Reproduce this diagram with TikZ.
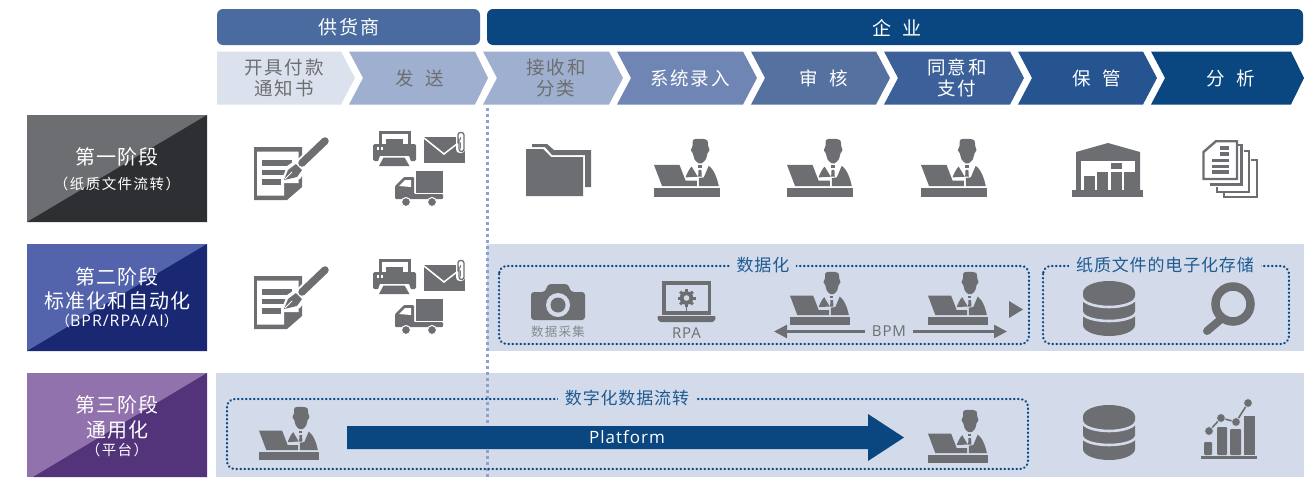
\documentclass[tikz,border=0pt]{standalone}
\usepackage{fontspec}
\setmainfont{Noto Sans CJK SC}
\newfontfamily\spaced[LetterSpace=10]{Noto Sans CJK SC}
\newfontfamily\tight[LetterSpace=5]{Noto Sans CJK SC}
\newfontfamily\latinf[LetterSpace=6]{Open Sans}
\usetikzlibrary{arrows.meta}
\definecolor{ink}{HTML}{6D6E71}
\definecolor{panel}{HTML}{D3DBEA}
\definecolor{navy}{HTML}{0A4780}
\definecolor{steel}{HTML}{4A6B9F}
\definecolor{chA}{HTML}{DCE1EE}
\definecolor{chB}{HTML}{9FAFD0}
\definecolor{chC}{HTML}{6F86B5}
\definecolor{chD}{HTML}{55719F}
\definecolor{chE}{HTML}{3C6099}
\definecolor{chF}{HTML}{255490}
\definecolor{labelblue}{HTML}{1F5A91}
\definecolor{vline}{HTML}{8EA1CF}
\definecolor{darkgrey}{HTML}{2E2F33}
\definecolor{lightblue}{HTML}{5364AD}
\definecolor{darkblue}{HTML}{1A2874}
\definecolor{lightpurple}{HTML}{9272AD}
\definecolor{darkpurple}{HTML}{53337A}
\newcommand{\fs}[1]{\fontsize{#1}{#1}\selectfont}
\tikzset{
  hdr/.style={fill=#1,rounded corners=6pt},
  chtext/.style={text=#1,font=\spaced\fs{18.5},align=center,inner sep=0pt},
  rowtitle/.style={text=white,font=\tight\fs{20},inner sep=0pt},
  rowsub/.style={text=white,font=\spaced\fs{14.5},inner sep=0pt},
  frame/.style={draw=navy,line width=2.4pt,dash pattern=on .3pt off 3.7pt,line cap=round,rounded corners=8pt},
  framelabel/.style={fill=panel,text=labelblue,font=\tight\fs{17},inner sep=0pt,inner xsep=7pt},
  pics/person/.style={code={
    \fill[ink] (0,149) rectangle (163,177);
    \fill[ink] (0,79) -- (63,79) -- (78,127) -- (106,127) -- (106,144) -- (20,144) -- cycle;
    \fill[ink] plot[smooth cycle,tension=.5] coordinates {(96,4) (104,0) (122,0) (132,5) (134,22) (137,34) (132,44) (128,62) (118,74) (110,74) (100,62) (96,44) (91,34) (95,22)};
    \fill[ink] (78,117) .. controls (82,102) and (88,90) .. (93,84) -- (108,115) -- cycle;
    \fill[ink] (111,144) -- (111,119) -- (123,117) -- (135,82) .. controls (148,92) and (156,120) .. (160,144) -- cycle;
    \fill[ink] (108,80) rectangle (118,88);
    \fill[ink] (110,94) -- (117,94) -- (118,115) -- (109,115) -- cycle;
  }},
  pics/note/.style={code={
    \fill[ink] (0,0) -- (48,0) -- (48,40) -- (33,53) -- (0,53) -- cycle;
    \fill[white] (3,4.5) -- (44.5,4.5) -- (44.5,36) -- (30,36) -- (30,48.5) -- (3,48.5) -- cycle;
    \fill[ink] (8,13) rectangle (38,18.5);
    \fill[ink] (8,23) rectangle (32,28);
    \fill[ink] (8,32) rectangle (27,38);
    \draw[white,line width=11pt,line cap=round] (44,20) -- (71,-7);
    \fill[white] (27,35) -- (33,19) -- (42,13) -- (52,23) -- (46,32) -- cycle;
    \draw[ink,line width=7.5pt,line cap=round] (48,16) -- (71,-6);
    \fill[ink] (30,33) -- (34,23) -- (42,17) -- (48,23) -- (43,30) -- cycle;
    \draw[white,line width=.8pt] (31,32) -- (38,25);
  }},
  pics/sendgroup/.style={code={
    \fill[ink] (6,0) rectangle (38,14);
    \fill[white] (9,3) rectangle (35,14);
    \fill[ink] (13,8) rectangle (30,13);
    \fill[ink,rounded corners=1.5pt] (0,13) rectangle (43,30);
    \fill[white] (4,16) rectangle (6,18.5);
    \fill[white] (8,16) rectangle (10,18.5);
    \fill[white] (7,25) -- (36,25) -- (40,36) -- (3,36) -- cycle;
    \fill[ink] (10.5,26.5) -- (31.5,26.5) -- (36.5,35) -- (6,35) -- cycle;
    \fill[ink] (51,6) rectangle (92,32);
    \draw[white,line width=1.5pt] (51,7) -- (71,23) -- (89,9);
    \draw[white,line width=4pt,line cap=round,rounded corners=2pt] (85,6) -- (85,20) -- (90,20) -- (90,2) -- (86,2);
    \draw[ink,line width=1.3pt,line cap=round,rounded corners=2.5pt] (86,8) -- (86,20.5) -- (91,20.5) -- (91,1.5) -- (85,1.5) -- (85,12);
    \fill[ink] (43,40) rectangle (70,62);
    \fill[ink,rounded corners=1pt] (22,68) -- (22,55) -- (31,46) -- (41,46) -- (41,63) -- (70,63) -- (70,68) -- cycle;
    \fill[white] (26,55) -- (32,49) -- (38,49) -- (38,56) -- cycle;
    \filldraw[ink,draw=white,line width=1pt] (33,71) circle (4.5);
    \filldraw[ink,draw=white,line width=1pt] (59,71) circle (4.5);
  }},
  pics/folder/.style={code={
    \fill[ink] (0,5) -- (17,5) -- (25,13) -- (57,13) -- (57,52) -- (0,52) -- cycle;
    \fill[ink] (6,0) -- (21,0) -- (28,6) -- (65,6) -- (65,43) -- (59,43) -- (59,11) -- (26,11) -- (19,3) -- (6,3) -- cycle;
  }},
  pics/warehouse/.style={code={
    \fill[ink] (0,47) rectangle (71,54);
    \fill[ink] (4,47) -- (4,9) -- (36,0) -- (68,9) -- (68,47) -- cycle;
    \fill[white] (9,18) rectangle (63,47);
    \fill[ink] (11.5,33) rectangle (23,47);
    \fill[ink] (24.5,28.5) rectangle (36,47);
    \fill[ink] (38.5,28.5) rectangle (50,47);
    \fill[ink] (51.5,28.5) rectangle (63,47);
    \fill[ink] (38.5,20) rectangle (50,26);
  }},
  pics/docs/.style={code={
    \draw[ink,line width=2.4pt,line join=miter] (1.5,12) -- (14,1.2) -- (35,1.2) -- (35,39) -- (1.5,39) -- cycle;
    \draw[ink,line width=2.2pt] (36,5) -- (39.5,5) -- (39.5,44.5) -- (8,44.5);
    \draw[ink,line width=2.2pt] (42,11) -- (47,11) -- (47,52) -- (15,52) -- (15,47);
    \draw[ink,line width=2.2pt] (49,20) -- (55,20) -- (55,57) -- (22,57) -- (22,53);
    \fill[ink] (17.5,6) rectangle (27,9.5);
    \fill[ink] (17.5,12) rectangle (27,15.5);
    \fill[ink] (10,18.5) rectangle (27,22);
    \fill[ink] (10,24.5) rectangle (27,28);
    \fill[ink] (10,30) rectangle (27,33.5);
  }},
  pics/db/.style={code={
    \fill[ink] (-26,11) -- (-26,44) arc[start angle=180,end angle=0,x radius=26,y radius=11] -- (26,11) -- cycle;
    \draw[panel,line width=2.6pt] (-27,16) arc[start angle=180,end angle=0,x radius=27,y radius=10];
    \draw[panel,line width=2.6pt] (-27,31) arc[start angle=180,end angle=0,x radius=27,y radius=9];
    \fill[ink] (0,11.5) ellipse[x radius=26,y radius=11.5];
  }},
  pics/magnifier/.style={code={
    \draw[ink,line width=8.5pt] (0,0) circle (17.5);
    \draw[ink,line width=8pt,line cap=round] (-13,16) -- (-26,27);
  }},
  pics/camera/.style={code={
    \fill[ink,rounded corners=3pt] (-27,-12) -- (-13,-12) -- (-10,-20) -- (10,-20) -- (13,-12) -- (27,-12) -- (27,16) -- (-27,16) -- cycle;
    \fill[panel] (0,1) circle (12);
    \fill[ink] (0,1) circle (7.5);
  }},
  pics/laptop/.style={code={
    \fill[ink] (-24.5,-18) rectangle (24.5,16);
    \fill[panel] (-21,-14.5) rectangle (21,12);
    \fill[ink,rounded corners=2pt] (-29.5,17) -- (29.5,17) -- (28,23) -- (-28,23) -- cycle;
    \foreach \a in {0,45,...,315}{\draw[ink,line width=3pt] (0,-1) -- ++(\a:9);}
    \fill[ink] (0,-1) circle (6.8);
    \fill[panel] (0,-1) circle (2.8);
    \draw[ink,line width=1.6pt] (0,7) -- (0,12);
  }},
  pics/chart/.style={code={
    \fill[ink] (0,53) rectangle (56,55.5);
    \fill[ink,rounded corners=1pt] (3,39) rectangle (11,52);
    \fill[ink,rounded corners=1pt] (16,24) rectangle (26,52);
    \fill[ink,rounded corners=1pt] (29,26) rectangle (40,52);
    \fill[ink] (43,13) rectangle (54,52);
    \draw[panel,line width=4pt] (8,28) -- (20,15) -- (35,19) -- (47,0);
    \draw[ink,line width=1.6pt] (8,28) -- (20,15) -- (35,19) -- (47,0);
    \foreach \p in {(8,28),(20,15),(35,19),(47,0)}{\filldraw[ink,draw=panel,line width=.7pt] \p circle (4.4);}
  }},
}
\begin{document}
\begin{tikzpicture}[x=1pt,y=-1pt]
\useasboundingbox (0,0) rectangle (1312,477);
\fill[panel] (487,244) rectangle (1304,351);
\fill[panel] (216,373) rectangle (1304,477);
\fill[hdr=steel] (217,9) rectangle (480,45);
\fill[hdr=navy] (487,9) rectangle (1303,45);
\node[text=white,font=\spaced\fs{19},inner sep=0pt] (supplier) at (349,27.5) {供货商};
\node[text=white,font=\spaced\fs{19},inner sep=0pt] (company) at (897,27.5) {企\hspace{.6em}业};
\fill[chA] (217,51.5) -- (341,51.5) -- (355,78) -- (341,104.5) -- (217,104.5) -- cycle;
\fill[chB] (349,51.5) -- (475,51.5) -- (488,78) -- (475,104.5) -- (349,104.5) -- (363,78) -- cycle;
\fill[chB] (483,51.5) -- (609,51.5) -- (623,78) -- (609,104.5) -- (483,104.5) -- (497,78) -- cycle;
\fill[chC] (617,51.5) -- (743,51.5) -- (757,78) -- (743,104.5) -- (617,104.5) -- (631,78) -- cycle;
\fill[chD] (751,51.5) -- (876,51.5) -- (890,78) -- (876,104.5) -- (751,104.5) -- (765,78) -- cycle;
\fill[chE] (884,51.5) -- (1010,51.5) -- (1024,78) -- (1010,104.5) -- (884,104.5) -- (898,78) -- cycle;
\fill[chF] (1018,51.5) -- (1143,51.5) -- (1157,78) -- (1143,104.5) -- (1018,104.5) -- (1032,78) -- cycle;
\fill[navy] (1151,51.5) -- (1291,51.5) -- (1304,78) -- (1291,104.5) -- (1151,104.5) -- (1165,78) -- cycle;
\node[chtext=ink] (c1) at (284,78) {开具付款\\[2pt]通知书};
\node[chtext=ink] (c2) at (420,78) {发\hspace{.6em}送};
\node[chtext=ink] (c3) at (556,78) {接收和\\[2pt]分类};
\node[chtext=white] (c4) at (690,78) {系统录入};
\node[chtext=white] (c5) at (824,78) {审\hspace{.6em}核};
\node[chtext=white] (c6) at (957,78) {同意和\\[2pt]支付};
\node[chtext=white] (c7) at (1097,78) {保\hspace{.6em}管};
\node[chtext=white] (c8) at (1231,78) {分\hspace{.6em}析};
\fill[ink] (27,115) rectangle (207,222);
\fill[darkgrey] (207,115) -- (207,222) -- (27,222) -- cycle;
\fill[lightblue] (27,244) rectangle (207,351);
\fill[darkblue] (207,244) -- (207,351) -- (27,351) -- cycle;
\fill[lightpurple] (27,373) rectangle (207,477);
\fill[darkpurple] (207,373) -- (207,477) -- (33,477) -- cycle;
\node[rowtitle] (s1) at (117,157) {第一阶段};
\node[rowsub] (s1b) at (117,184) {（纸质文件流转）};
\node[rowtitle] (s2) at (117,277) {第二阶段};
\node[rowtitle] (s2b) at (117,301) {标准化和自动化};
\node[rowsub] (s2c) at (117,321) {（{\latinf\fs{16}BPR/RPA/AI}）};
\node[rowtitle] (s3) at (117,405) {第三阶段};
\node[rowtitle] (s3b) at (117,430) {通用化};
\node[rowsub] (s3c) at (117,450) {（平台）};
\coordinate (vtop) at (487.5,108);
\coordinate (vbot) at (487.5,477);
\draw[vline,line width=2.5pt,dash pattern=on 3pt off 3pt] (vtop) -- (vbot);
\pic at (254,147) {note};
\pic at (373,131) {sendgroup};
\pic at (526,144) {folder};
\pic[xscale=.405,yscale=.328] at (654,139) {person};
\pic[xscale=.405,yscale=.328] at (787,139) {person};
\pic[xscale=.405,yscale=.328] at (921,139) {person};
\pic at (1072,143) {warehouse};
\pic at (1202,140) {docs};
\pic at (254,276) {note};
\pic at (373,259) {sendgroup};
\draw[frame] (499,266) rectangle (1029,344);
\draw[frame] (1043,266) rectangle (1289,344);
\node[framelabel] (lab1) at (763,265) {数据化};
\node[framelabel] (lab2) at (1165,265) {纸质文件的电子化存储};
\pic at (558,304) {camera};
\node[text=ink!75!panel,font=\spaced\fs{12.5},inner sep=0pt] (cap) at (558,332) {数据采集};
\pic at (686.5,299) {laptop};
\node[text=ink,font=\latinf\fs{15},inner sep=0pt] (rpa) at (686.5,333) {RPA};
\pic[xscale=.368,yscale=.3] at (790,272) {person};
\pic[xscale=.368,yscale=.3] at (928,272) {person};
\fill[ink] (1009,301) -- (1023,309.5) -- (1009,318) -- cycle;
\node[text=ink,font=\latinf\fs{15},inner sep=0pt,inner xsep=7pt] (bpm) at (889,331.5) {BPM};
\coordinate (bpmL) at (774,331.5);
\coordinate (bpmR) at (1007,331.5);
\draw[ink,line width=2.4pt,-{Triangle[length=13pt,width=13pt]}] (bpm.west) -- (bpmL);
\draw[ink,line width=2.4pt,-{Triangle[length=13pt,width=13pt]}] (bpm.east) -- (bpmR);
\pic at (1109,281) {db};
\pic at (1233,304) {magnifier};
\draw[frame] (227,399) rectangle (1028,469);
\node[framelabel] (lab3) at (627,398) {数字化数据流转};
\pic[xscale=.368,yscale=.3] at (259,407) {person};
\pic[xscale=.368,yscale=.3] at (928,410) {person};
\fill[navy] (347,426) -- (868,426) -- (868,414) -- (904,437.5) -- (868,461) -- (868,449) -- (347,449) -- cycle;
\node[text=white,font=\latinf\fs{17},inner sep=0pt] (plat) at (627,437.5) {Platform};
\pic at (1109,405) {db};
\pic at (1201,403) {chart};
\end{tikzpicture}
\end{document}
